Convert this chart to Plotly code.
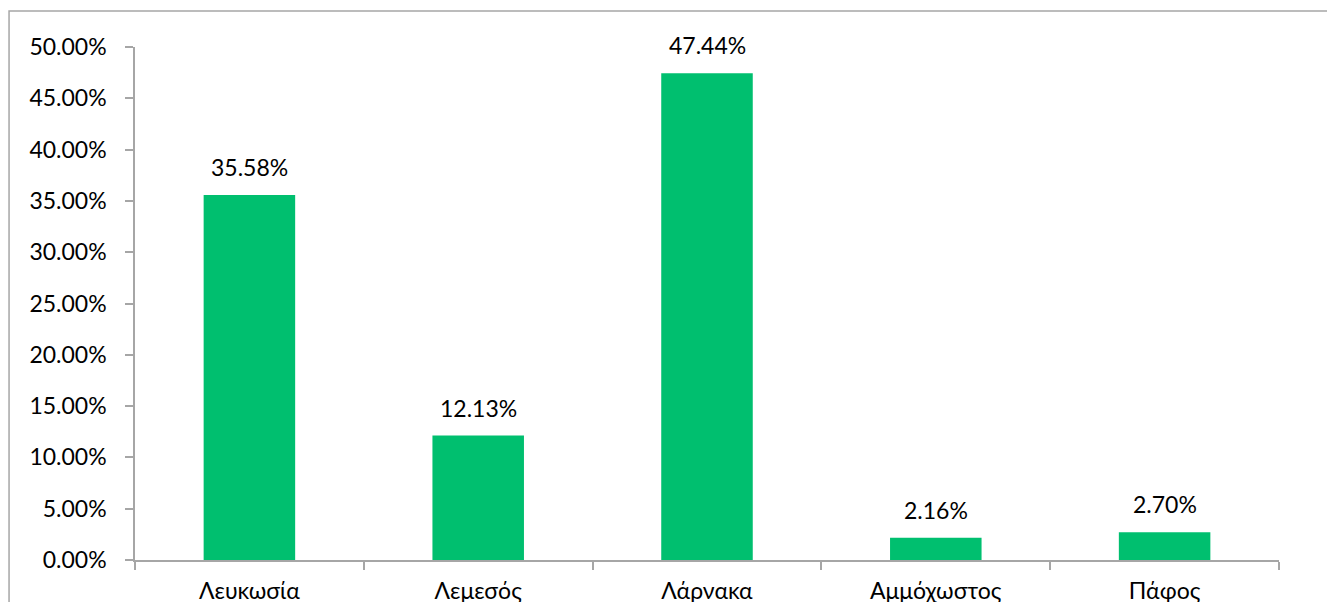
import plotly.graph_objects as go

# District shares
districts = ["Λευκωσία", "Λεμεσός", "Λάρνακα", "Αμμόχωστος", "Πάφος"]
shares = [0.3558, 0.1213, 0.4744, 0.0216, 0.0270]

BAR_COLOR = "#00BF6F"
AXIS_COLOR = "#A6A6A6"
FONT = "Lato"
FONT_SIZE = 23

fig = go.Figure(
    go.Bar(
        x=districts,
        y=shares,
        marker=dict(color=BAR_COLOR, line=dict(width=0)),
        width=0.4,
        hoverinfo="skip",
    )
)

# value labels above the bars
for name, val in zip(districts, shares):
    fig.add_annotation(
        x=name, y=val, text=f"{val * 100:.2f}%",
        showarrow=False, yanchor="bottom", yshift=12,
        font=dict(family=FONT, size=FONT_SIZE, color="#000000"),
    )

# outer chart frame (extends past the right and bottom edges)
fig.add_shape(
    type="rect", xref="paper", yref="paper",
    x0=-0.1101, x1=1.06, y0=-0.12, y1=1.0702,
    line=dict(color=AXIS_COLOR, width=1.5), fillcolor="rgba(0,0,0,0)",
    layer="below",
)

fig.update_layout(
    width=1327, height=602,
    margin=dict(l=135, r=48, t=47, b=42, autoexpand=False),
    paper_bgcolor="white", plot_bgcolor="white",
    showlegend=False,
    font=dict(family=FONT, size=FONT_SIZE, color="#000000"),
    xaxis=dict(
        showline=True, linecolor=AXIS_COLOR, linewidth=1.5,
        ticks="outside", tickson="boundaries", ticklen=8,
        tickcolor=AXIS_COLOR, tickwidth=1.5,
        showgrid=False, zeroline=False, automargin=False,
        ticklabelstandoff=10,
        tickfont=dict(family=FONT, size=FONT_SIZE, color="#000000"),
        range=[-0.5, 4.5],
    ),
    yaxis=dict(
        range=[0, 0.5], dtick=0.05, tickformat=".2%",
        showline=True, linecolor=AXIS_COLOR, linewidth=1.5,
        ticks="outside", ticklen=8, tickcolor=AXIS_COLOR, tickwidth=1.5,
        showgrid=False, zeroline=False, automargin=False,
        ticklabelstandoff=14,
        tickfont=dict(family=FONT, size=FONT_SIZE, color="#000000"),
    ),
)

fig.write_html("out.html")
